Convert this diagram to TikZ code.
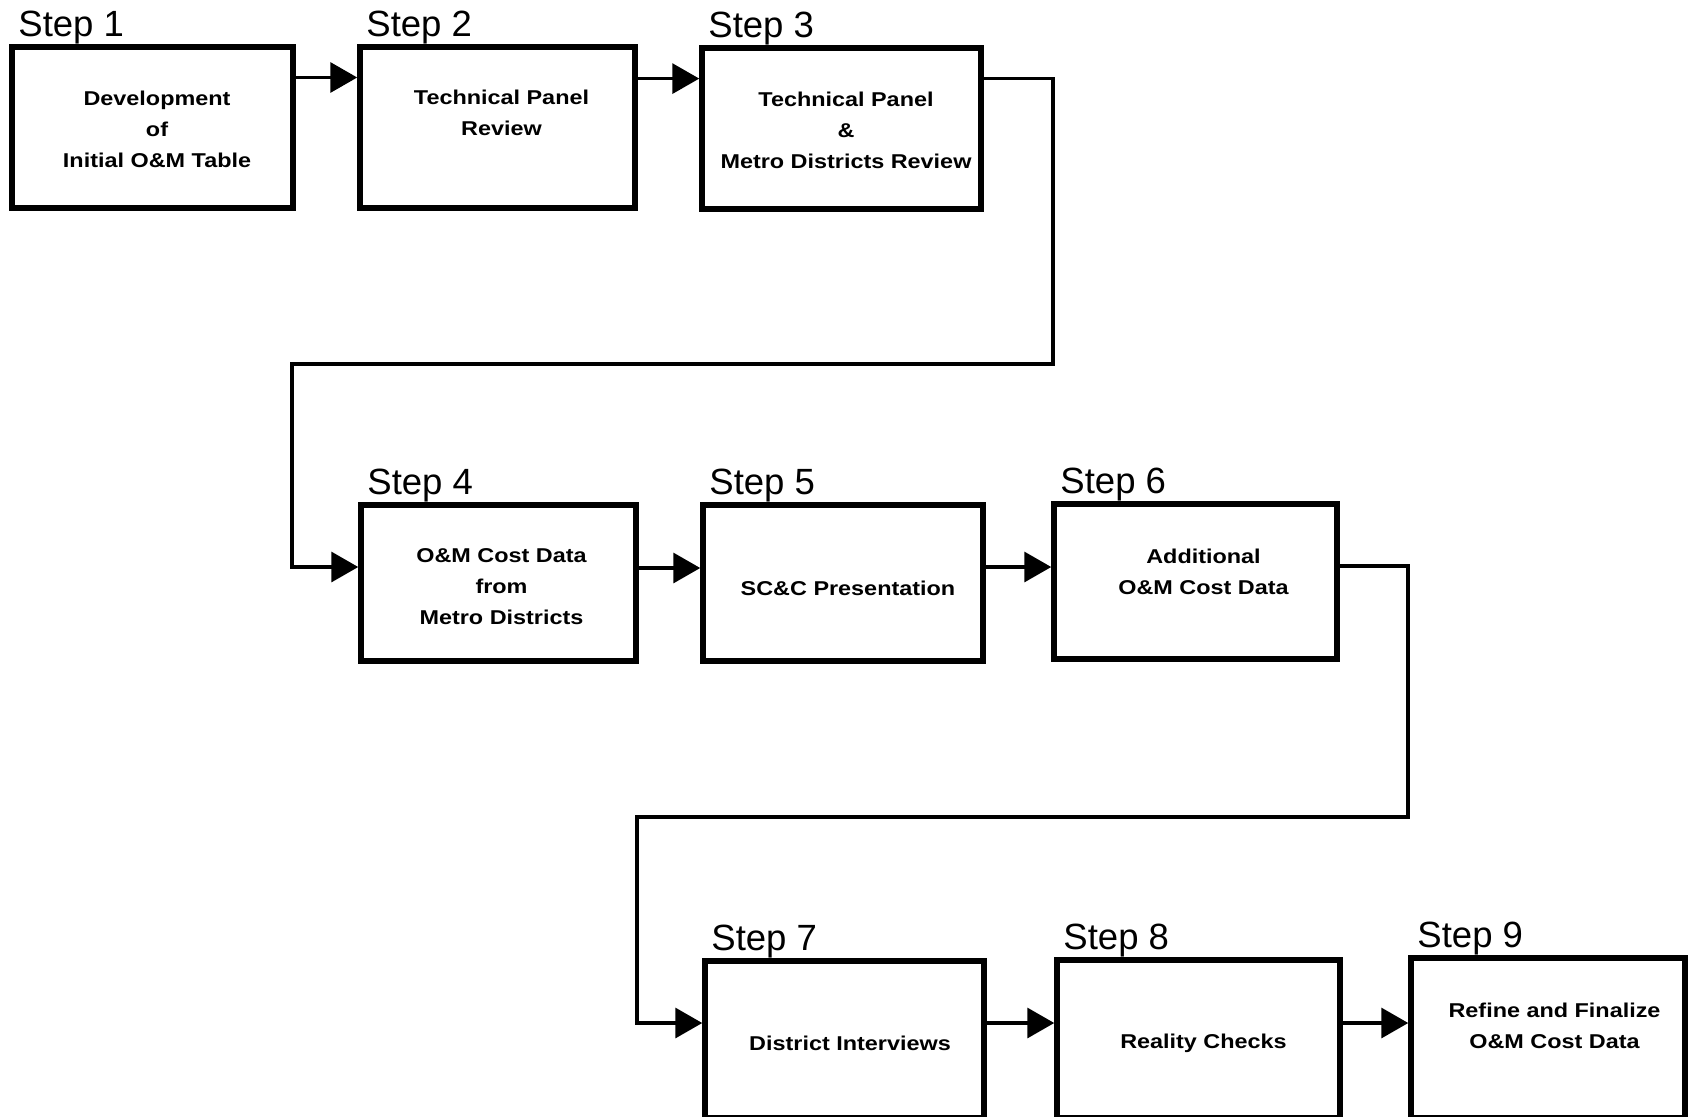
\documentclass[tikz,border=0pt]{standalone}
\usepackage{fontspec}
\setmainfont{Liberation Sans}
\newfontfamily\boxfont[FakeStretch=1.17]{Liberation Sans}
\usetikzlibrary{arrows.meta}
\begin{document}
\begin{tikzpicture}[x=1pt,y=-1pt,
  stepbox/.style={draw, line width=5.5pt, line join=miter, inner sep=0pt},
  boxtext/.style={align=center, inner sep=0pt, font=\boxfont\bfseries\fontsize{20}{31}\selectfont},
  steplbl/.style={anchor=base west, inner sep=0pt, font=\fontsize{36.5}{40}\selectfont},
  conn/.style={line width=3.5pt, line join=miter, -{Triangle[length=27pt,width=30pt]}}]
\useasboundingbox[fill=white] (0,0) rectangle (1688,1116);
% boxes
\node[stepbox, minimum width=281pt, minimum height=161pt] (b1) at (152.5,127.5) {};
\node[stepbox, minimum width=275pt, minimum height=161pt] (b2) at (497.5,127.5) {};
\node[stepbox, minimum width=279pt, minimum height=161pt] (b3) at (841.5,128.5) {};
\node[stepbox, minimum width=275pt, minimum height=156pt] (b4) at (498.5,583) {};
\node[stepbox, minimum width=280pt, minimum height=156pt] (b5) at (843,583) {};
\node[stepbox, minimum width=283pt, minimum height=155pt] (b6) at (1195.5,581.5) {};
\node[stepbox, minimum width=279pt, minimum height=157pt] (b7) at (844.5,1039.5) {};
\node[stepbox, minimum width=283pt, minimum height=158pt] (b8) at (1198.5,1039) {};
\node[stepbox, minimum width=274pt, minimum height=160pt] (b9) at (1548,1038) {};
% step labels
\node[steplbl] (s1) at ([xshift=9pt,yshift=8pt]b1.north west) {Step 1};
\node[steplbl] (s2) at ([xshift=9pt,yshift=8pt]b2.north west) {Step 2};
\node[steplbl] (s3) at ([xshift=9pt,yshift=8pt]b3.north west) {Step 3};
\node[steplbl] (s4) at ([xshift=9pt,yshift=8pt]b4.north west) {Step 4};
\node[steplbl] (s5) at ([xshift=9pt,yshift=8pt]b5.north west) {Step 5};
\node[steplbl] (s6) at ([xshift=9pt,yshift=8pt]b6.north west) {Step 6};
\node[steplbl] (s7) at ([xshift=9pt,yshift=8pt]b7.north west) {Step 7};
\node[steplbl] (s8) at ([xshift=9pt,yshift=8pt]b8.north west) {Step 8};
\node[steplbl] (s9) at ([xshift=9pt,yshift=8pt]b9.north west) {Step 9};
% box texts
\node[boxtext] (t1) at (157,129) {Development\\of\\Initial O\&M Table};
\node[boxtext] (t2) at (501.5,113) {Technical Panel\\Review};
\node[boxtext] (t3) at (846,130) {Technical Panel\\\&\\Metro Districts Review};
\node[boxtext] (t4) at (501.5,587) {O\&M Cost Data\\from\\Metro Districts};
\node[boxtext] (t5) at (848,588) {SC\&C Presentation};
\node[boxtext] (t6) at (1203.5,571.5) {Additional\\O\&M Cost Data};
\node[boxtext] (t7) at (850,1043) {District Interviews};
\node[boxtext] (t8) at (1203.5,1043) {Reality Checks};
\node[boxtext] (t9) at (1554.5,1026) {Refine and Finalize\\O\&M Cost Data};
% connectors
\coordinate (c1) at (1053,364);
\coordinate (c2) at (292,364);
\coordinate (c3) at (1408,817);
\coordinate (c4) at (637,817);
\draw[conn] (b1.east |- 0,77.5) -- (b2.west |- 0,77.5);
\draw[conn] (b2.east |- 0,78.6) -- (b3.west |- 0,78.6);
\draw[conn] (b3.east |- 0,78.6) -| (c1) -- (c2) |- (b4.west |- 0,567);
\draw[conn] (b4.east |- 0,568) -- (b5.west |- 0,568);
\draw[conn] (b5.east |- 0,567) -- (b6.west |- 0,567);
\draw[conn] (b6.east |- 0,566) -| (c3) -- (c4) |- (b7.west |- 0,1023);
\draw[conn] (b7.east |- 0,1023) -- (b8.west |- 0,1023);
\draw[conn] (b8.east |- 0,1023) -- (b9.west |- 0,1023);
\end{tikzpicture}
\end{document}
